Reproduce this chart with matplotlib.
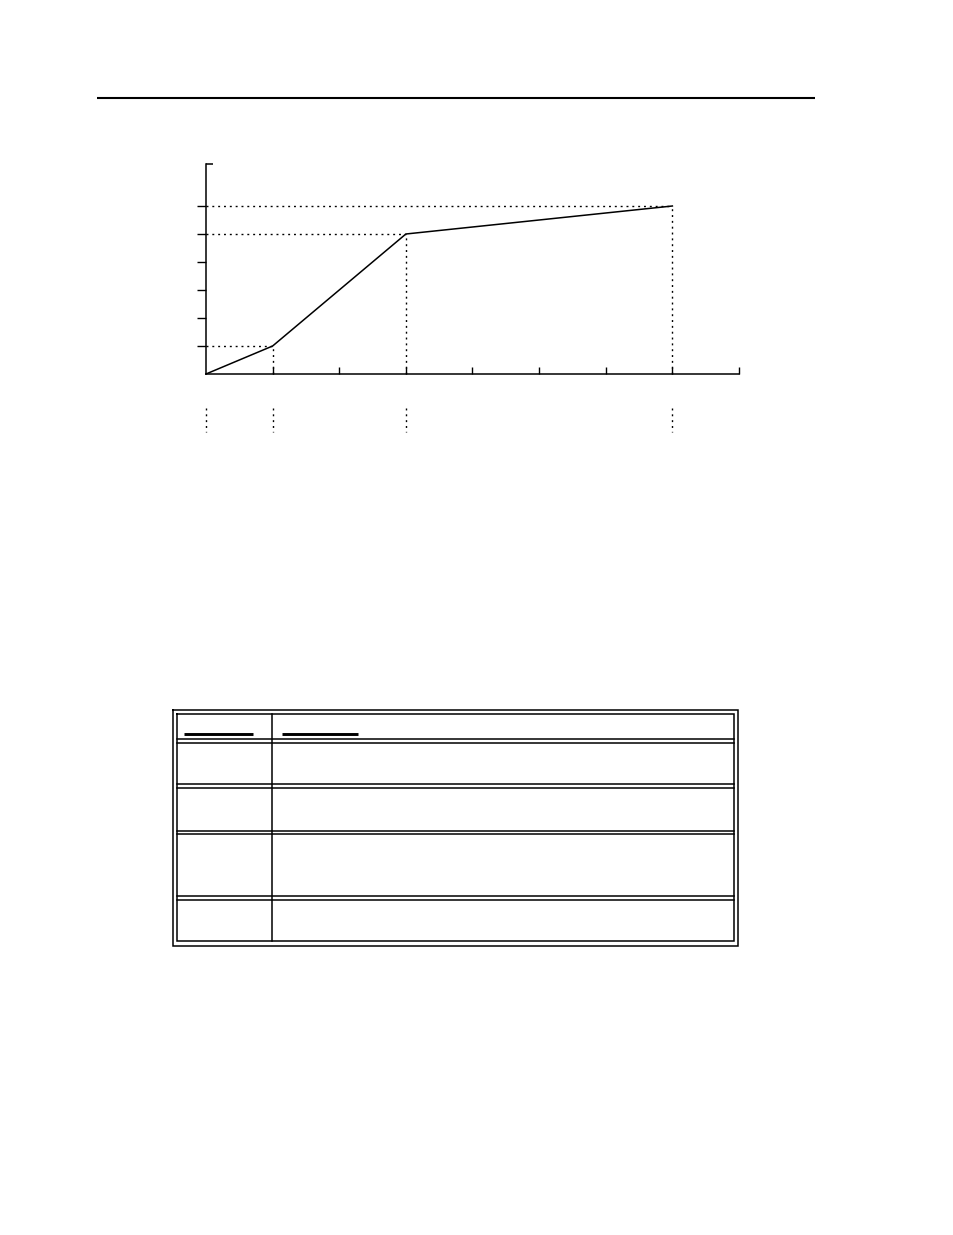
import matplotlib
matplotlib.use("Agg")
import matplotlib.pyplot as plt

# ---- chart data ----
x_vals = [0, 1, 3, 7]
y_vals = [0, 1, 5, 6]
x_ticks = [1, 2, 3, 4, 5, 6, 7, 8]
y_ticks = [1, 2, 3, 4, 5, 6]
x_max = 8
y_max = 7.5
guide_below = (-1.21, -2.07)

# ---- table layout (pixel rows of page) ----
table_outer = (173.3, 710.3, 738.0, 945.7)
table_inner = (177.3, 713.7, 733.7, 940.7)
col_divider = 272.3
header_rules = [(184, 253), (282, 358)]
header_rule_y = 733.7
row_separators = [(739.3, 743.3), (784.3, 788.3), (830.7, 834.3), (896.3, 900.3)]

W, H = 954, 1235
fig = plt.figure(figsize=(W / 100, H / 100), dpi=100)
fig.patch.set_facecolor("white")

# page overlay
page = fig.add_axes([0, 0, 1, 1])
page.set_xlim(0, W)
page.set_ylim(H, 0)
page.axis("off")
page.plot([97, 815], [98, 98], color="black", lw=1.5, solid_capstyle="butt")

lw_t = 1.1
for (l, t, r, b) in (table_outer, table_inner):
    page.plot([l, r, r, l, l], [t, t, b, b, t], color="black", lw=lw_t,
              solid_joinstyle="miter")
l, t, r, b = table_inner
page.plot([col_divider, col_divider], [t, b], color="black", lw=lw_t)
for y1, y2 in row_separators:
    page.plot([l, r], [y1, y1], color="black", lw=lw_t)
    page.plot([l, r], [y2, y2], color="black", lw=lw_t)
for x1, x2 in header_rules:
    page.plot([x1, x2], [header_rule_y, header_rule_y], color="black", lw=2.1,
              solid_capstyle="butt")

# chart axes
ax_l, ax_r, ax_b, ax_t = 206, 739, 374, 164
ax = fig.add_axes([ax_l / W, 1 - ax_b / H, (ax_r - ax_l) / W, (ax_b - ax_t) / H])
ax.set_facecolor("none")
ax.set_xlim(0, x_max)
ax.set_ylim(0, y_max)
for s in ("top", "right"):
    ax.spines[s].set_visible(False)
for s in ("left", "bottom"):
    ax.spines[s].set_linewidth(1.1)
ax.set_xticks(x_ticks)
ax.set_yticks(y_ticks)
ax.set_xticklabels([])
ax.set_yticklabels([])
ax.tick_params(axis="x", direction="in", length=5, width=1.0)
ax.tick_params(axis="y", direction="out", length=6.5, width=1.0)

# top cap of y axis
ax.plot([0, 0.105], [y_max, y_max], color="black", lw=1.1, clip_on=False,
        solid_capstyle="butt")

dot = dict(color="black", lw=1.0, dashes=(1.4, 2.8), clip_on=False)
for xv, yv in zip(x_vals[1:], y_vals[1:]):
    ax.plot([0, xv], [yv, yv], **dot)
    ax.plot([xv, xv], [0, yv], **dot)
for xv in x_vals:
    ax.plot([xv, xv], list(guide_below), **dot)

ax.plot(x_vals, y_vals, color="black", lw=1.1, clip_on=False)

fig.savefig("out.png", dpi=100, facecolor="white")
